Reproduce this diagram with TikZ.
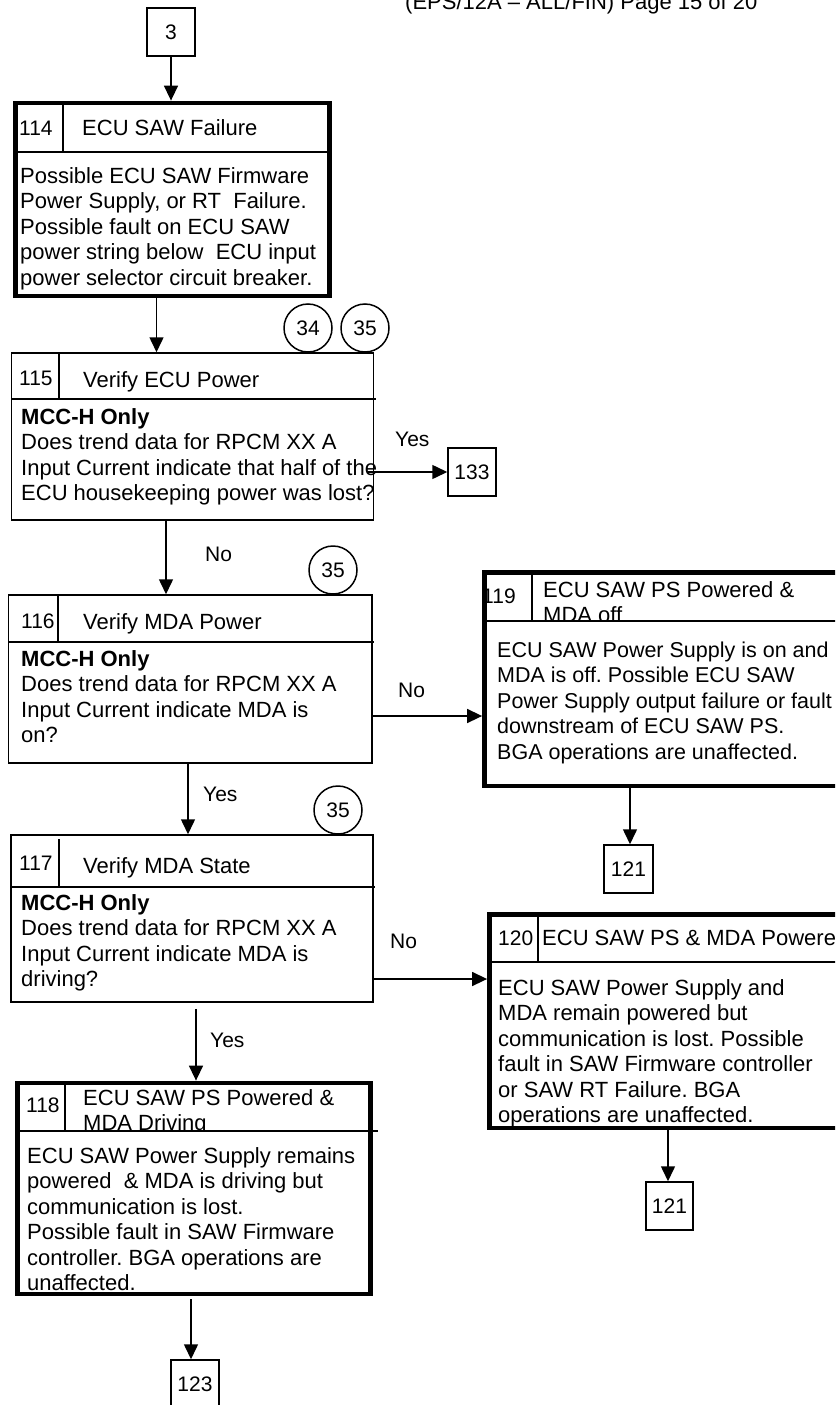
\documentclass[tikz,border=0pt]{standalone}
\usepackage{fontspec}
\setmainfont{Liberation Sans}
\usetikzlibrary{arrows.meta}
\frenchspacing
\newcommand\bodyfnt{\fontsize{22}{25.5}\selectfont}
\newcommand\narrowfnt{\fontsize{21.5}{25.5}\selectfont}
\newcommand\numfnt{\fontsize{21}{24}\selectfont}
\newcommand\lblfnt{\fontsize{21}{25}\selectfont}
\tikzset{
  thinbox/.style={draw, line width=1.5pt, inner sep=0pt},
  thickbox/.style={draw, line width=4.8pt, inner sep=0pt},
  refbox/.style={draw, line width=1.5pt, inner sep=0pt, font=\numfnt},
  circ/.style={draw, circle, line width=1.5pt, minimum size=48pt, inner sep=0pt, font=\numfnt},
  arr/.style={line width=1.5pt, -{Triangle[length=15pt,width=14pt]}},
  divider/.style={line width=1.5pt},
  numtxt/.style={anchor=base west, inner sep=0pt, font=\numfnt},
  ttltxt/.style={anchor=base west, inner sep=0pt, font=\bodyfnt},
  blocktxt/.style={anchor=north west, inner sep=0pt, align=left, font=\bodyfnt, yshift=17.85pt},
  lbl/.style={anchor=base west, inner sep=0pt, font=\lblfnt}
}
\begin{document}
\begin{tikzpicture}[x=1pt,y=-1pt]
\useasboundingbox (0,0) rectangle (835,1405);
\clip (0,0) rectangle (835,1405);

% page header
\node[anchor=base west, inner sep=0pt, font=\bodyfnt] (hdr) at (405,10) {(EPS/12A – ALL/FIN) Page 15 of 20};

% ---------- texts ----------
% 114
\node[numtxt] (n114) at (19,135) {114};
\node[ttltxt] (t114) at (82,135) {ECU SAW Failure};
\node[blocktxt] (d114) at (20,183) {\strut Possible ECU SAW Firmware\\Power Supply, or RT\ \ Failure.\\Possible fault on ECU SAW\\power string below\ \ ECU input\\power selector circuit breaker.};
% 115
\node[numtxt] (n115) at (19,385) {115};
\node[ttltxt] (t115) at (83,387) {Verify ECU Power};
\node[blocktxt] (d115) at (21,424) {\strut\textbf{MCC-H Only}\\Does trend data for RPCM XX A\\Input Current indicate that half of the\\ECU housekeeping power was lost?};
% 116
\node[numtxt] (n116) at (21,628) {116};
\node[ttltxt] (t116) at (83,629) {Verify MDA Power};
\node[blocktxt] (d116) at (21,666) {\strut\textbf{MCC-H Only}\\Does trend data for RPCM XX A\\Input Current indicate MDA is\\on?};
% 117
\node[numtxt] (n117) at (19,870) {117};
\node[ttltxt] (t117) at (83,873) {Verify MDA State};
\node[blocktxt] (d117) at (21,910) {\strut\textbf{MCC-H Only}\\Does trend data for RPCM XX A\\Input Current indicate MDA is\\driving?};
% 118
\node[numtxt] (n118) at (26,1112) {118};
\begin{scope}
\clip (65,1083) rectangle (370.5,1131);
\node[blocktxt] (t118) at (83,1105) {\strut ECU SAW PS Powered \&\\MDA Driving};
\end{scope}
\node[blocktxt] (d118) at (27,1163) {\strut ECU SAW Power Supply remains\\powered\ \ \& MDA is driving but\\communication is lost.\\Possible fault in SAW Firmware\\controller. BGA operations are\\unaffected.};
% 119
\node[numtxt] (n119) at (482,603) {119};
\begin{scope}
\clip (532,572.5) rectangle (835,621);
\node[blocktxt] (t119) at (543,597) {\strut ECU SAW PS Powered \&\\MDA off};
\end{scope}
\node[blocktxt, font=\narrowfnt] (d119) at (497,657) {\strut ECU SAW Power Supply is on and\\MDA is off. Possible ECU SAW\\Power Supply output failure or fault\\downstream of ECU SAW PS.\\BGA operations are unaffected.};
% 120
\node[numtxt] (n120) at (498,945) {120};
\node[ttltxt] (t120) at (542,945) {ECU SAW PS \& MDA Powered};
\node[blocktxt] (d120) at (498,995) {\strut ECU SAW Power Supply and\\MDA remain powered but\\communication is lost. Possible\\fault in SAW Firmware controller\\or SAW RT Failure. BGA\\operations are unaffected.};

% ---------- boxes ----------
\node[refbox, minimum width=48pt, minimum height=48pt] (b3) at (171,32) {3};
\node[thickbox, minimum width=314pt, minimum height=193pt] (b114) at (172.5,199.5) {};
\node[thinbox, minimum width=362pt, minimum height=167pt] (b115) at (192.5,436.5) {};
\node[refbox, minimum width=48pt, minimum height=48pt] (b133) at (472,472) {133};
\node[thinbox, minimum width=363.5pt, minimum height=168pt] (b116) at (190.25,679) {};
\node[thickbox, minimum width=375.5pt, minimum height=213.5pt] (b119) at (672.25,679.25) {};
\node[refbox, minimum width=49pt, minimum height=48pt] (b121a) at (628.5,869) {121};
\node[thinbox, minimum width=362pt, minimum height=167pt] (b117) at (192,918.5) {};
\node[thickbox, minimum width=370.5pt, minimum height=213.5pt] (b120) at (674.75,1021.25) {};
\node[refbox, minimum width=47pt, minimum height=48pt] (b121b) at (669.5,1206) {121};
\node[thickbox, minimum width=353pt, minimum height=211pt] (b118) at (194,1188.5) {};
\node[refbox, minimum width=48pt, minimum height=48pt] (b123) at (195,1384) {123};

% header dividers
\draw[divider] (63,103) -- (63,152);  \draw[divider] (15.5,152) -- (329.5,152);
\draw[divider] (59,353) -- (59,399);  \draw[divider] (11.5,399) -- (376,399);
\draw[divider] (58,595) -- (58,642);  \draw[divider] (8.5,642) -- (374,642);
\draw[divider] (59,839) -- (59,887);  \draw[divider] (11,887) -- (375,887);
\draw[divider] (65,1083) -- (65,1131); \draw[divider] (17.5,1131) -- (378,1131);
\draw[divider] (532,572.5) -- (532,621); \draw[divider] (484.5,621) -- (860,621);
\draw[divider] (538,914.5) -- (538,962); \draw[divider] (489.5,962) -- (860,962);

% connector circles
\node[circ] (c34) at (308,328) {34};
\node[circ] (c35a) at (365,328) {35};
\node[circ] (c35b) at (333,570) {35};
\node[circ] (c35c) at (338,810) {35};

% labels
\node[lbl] (y1) at (395,446) {Yes};
\node[lbl] (no1) at (205,561) {No};
\node[lbl] (no2) at (398,697) {No};
\node[lbl] (y2) at (203,801) {Yes};
\node[lbl] (no3) at (390,948) {No};
\node[lbl] (y3) at (210,1047) {Yes};

% ---------- connectors ----------
\draw[arr] (b3) -- (b3 |- b114.north);
\draw[arr] ([xshift=-16pt]b114.south) -- ([xshift=-16pt]b114.south |- b115.north);
\draw[arr] ([xshift=-6.5pt,yshift=-35.5pt]b115.east) -- ([yshift=-35.5pt]b115.east -| b133.west);
\draw[arr] ([xshift=-26.5pt]b115.south) -- ([xshift=-26.5pt]b115.south |- b116.north);
\draw[arr] ([yshift=-37pt]b116.east) -- ([yshift=-37pt]b116.east -| b119.west);
\draw[arr] ([xshift=-2.25pt]b116.south) -- ([xshift=-2.25pt]b116.south |- b117.north);
\draw[arr] ([xshift=-42.25pt]b119.south) -- ([xshift=-42.25pt]b119.south |- b121a.north);
\draw[arr] ([yshift=-60.5pt]b117.east) -- ([yshift=-60.5pt]b117.east -| b120.west);
\draw[arr, shorten <=6pt] ([xshift=4pt]b117.south) -- ([xshift=4pt]b117.south |- b118.north);
\draw[arr] ([xshift=-6.75pt]b120.south) -- ([xshift=-6.75pt]b120.south |- b121b.north);
\draw[arr, shorten <=3pt] ([xshift=-3pt]b118.south) -- ([xshift=-3pt]b118.south |- b123.north);
\end{tikzpicture}
\end{document}
